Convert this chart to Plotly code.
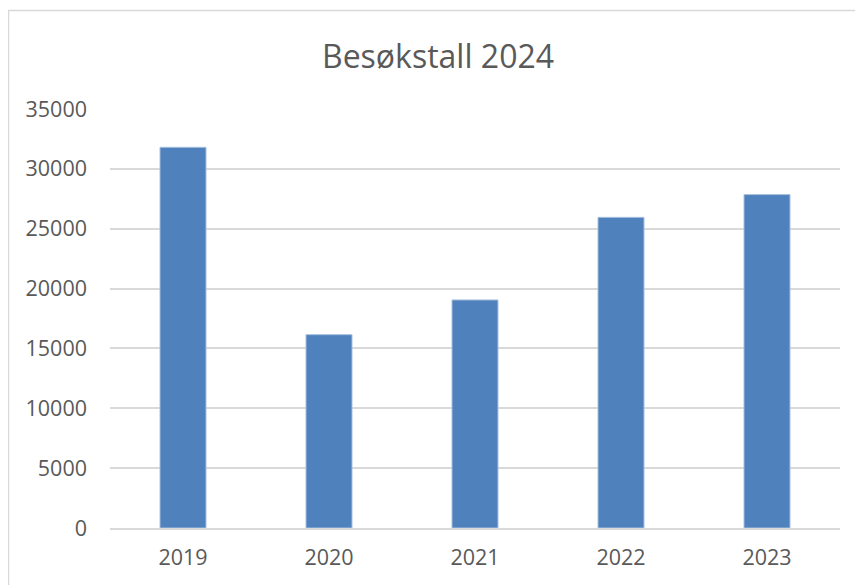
import plotly.graph_objects as go

years = ["2019", "2020", "2021", "2022", "2023"]
visitors = [31800, 16150, 19050, 25950, 27850]
y_ticks = [0, 5000, 10000, 15000, 20000, 25000, 30000, 35000]
y_tick_text = ["0", "5000", "10000", "15000", "20000", "25000", "30000", "35000"]

W, H = 863, 585
OFF = 8  # page body margin offset
L, R, T, B = 110 - OFF, 23 + OFF, 109 - OFF, 57 + OFF
pw, ph = W - L - R, H - T - B

fig = go.Figure(go.Bar(
    x=years, y=visitors,
    marker=dict(color="#4F81BD", line=dict(color="#A7C0DE", width=1)),
    hoverinfo="x+y",
))

fig.update_layout(
    width=W, height=H,
    margin=dict(l=L, r=R, t=T, b=B, pad=0),
    paper_bgcolor="white", plot_bgcolor="white",
    bargap=0.685,
    showlegend=False,
    font=dict(family="Open Sans, Noto Sans, sans-serif", color="#595959"),
    title=dict(text="Besøkstall 2024", x=(438 - OFF) / W, xanchor="center",
               y=1 - (57 - OFF) / H, yanchor="middle",
               font=dict(size=32, color="#595959",
                         family="Open Sans, Noto Sans, sans-serif")),
    xaxis=dict(showgrid=False, showline=True, linecolor="#D9D9D9", linewidth=1.5,
               ticks="", tickfont=dict(size=21.5, color="#595959"), ticklabelstandoff=9),
    yaxis=dict(range=[0, 35000], tickvals=y_ticks, ticktext=y_tick_text, showgrid=True,
               gridcolor="#D9D9D9", gridwidth=1.5, zeroline=False, showline=False,
               ticks="", tickfont=dict(size=21.5, color="#595959"), ticklabelstandoff=22),
    shapes=[dict(type="rect", xref="paper", yref="paper",
                 x0=(8.5 - OFF - L) / pw, x1=(W + 20 - L) / pw,
                 y0=-(B + 20) / ph, y1=1 + (T - (10.5 - OFF)) / ph,
                 line=dict(color="#D9D9D9", width=1.5), fillcolor="rgba(0,0,0,0)",
                 layer="below")],
)

fig.write_html("out.html")
